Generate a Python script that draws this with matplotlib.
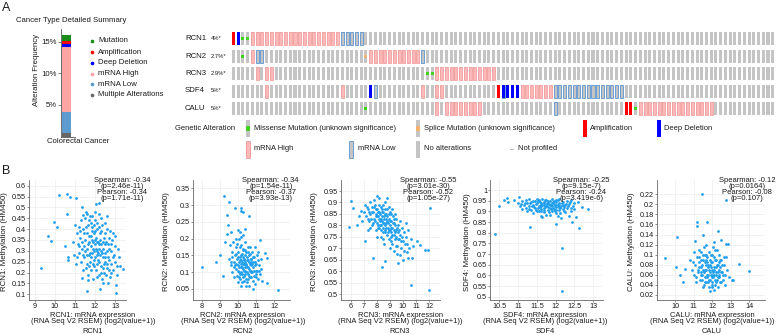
import matplotlib
matplotlib.use('Agg')
import matplotlib.pyplot as plt
from matplotlib.patches import Rectangle
import numpy as np

plt.rcParams['font.family'] = ['Liberation Sans', 'DejaVu Sans']

W, H = 777, 335

# ---------------- data: panel A summary bar ----------------
summary_types = ['Multiple Alterations', 'mRNA Low', 'mRNA High',
                 'Deep Deletion', 'Amplification', 'Mutation']
summary_freq = [0.6, 3.3, 10.3, 0.55, 0.45, 0.9]
summary_colors = ['#666666', '#5b9bd0', '#ffa3a3', '#0000ff', '#ff0000', '#1a8c1a']

# ---------------- data: oncoprint ----------------
genes = ['RCN1', 'RCN2', 'RCN3', 'SDF4', 'CALU']
gene_pct = ['4%*', '2.7%*', '2.9%*', '5%*', '5%*']
n_samples = 115
amp_cols = [[0], [], [], [56], [83, 84]]
deep_cols = [[1], [], [], [29, 57, 58, 59, 60], []]
missense_cols = [[2, 3], [2], [41, 42], [], [28, 85]]
splice_cols = [[], [28], [], [], []]
high_cols = [
    [4, 5, 6, 7, 8, 9, 10, 11, 12, 13, 14, 15, 16, 17, 18, 19, 20, 21, 22],
    [4, 29, 30, 31, 32, 33, 34, 35, 36, 37, 38, 39],
    [5, 7, 8, 43, 44, 45, 46, 47, 48, 49, 50, 51, 52, 53, 54, 55],
    [7, 23, 40, 43, 44, 61, 62, 63, 64, 65, 66, 67],
    [43, 45, 46, 47, 48, 49, 50, 51, 52, 86, 87, 88, 89, 90, 91, 92, 93,
     94, 95, 96, 97, 98, 99, 100, 101],
]
low_cols = [
    [23, 24, 25, 26, 27],
    [5, 6, 40],
    [],
    [30, 57, 68, 69, 70, 71, 72, 73, 74, 75, 76, 77, 78, 79, 80, 81, 82],
    [68],
]

# ---------------- data: panel B scatter (expression, methylation) ----------------
rcn1_xy = np.array([
    (9.32, 0.22), (9.68, 0.37), (9.8, 0.345), (9.98, 0.435), (10.1, 0.41), (10.23, 0.555),
    (10.6, 0.56), (10.78, 0.55), (11.05, 0.545), (10.6, 0.47), (10.5, 0.32), (10.67, 0.27),
    (10.64, 0.26), (11.34, 0.175), (11.6, 0.115), (12.25, 0.125), (12.66, 0.15), (13.05, 0.145),
    (13.05, 0.105), (13.4, 0.215), (13.0, 0.37), (12.75, 0.39), (11.67, 0.165), (12.05, 0.515),
    (12.18, 0.52), (11.34, 0.5), (11.42, 0.465),
    (11.0, 0.42), (11.1, 0.38), (11.15, 0.33), (11.2, 0.29), (11.25, 0.36), (11.3, 0.44),
    (11.35, 0.31), (11.4, 0.40), (11.45, 0.27), (11.5, 0.35), (11.5, 0.45), (11.55, 0.22),
    (11.6, 0.31), (11.6, 0.38), (11.65, 0.42), (11.7, 0.28), (11.7, 0.34), (11.75, 0.25),
    (11.75, 0.46), (11.8, 0.32), (11.8, 0.37), (11.85, 0.29), (11.85, 0.41), (11.9, 0.24),
    (11.9, 0.34), (11.95, 0.30), (11.95, 0.38), (12.0, 0.27), (12.0, 0.33), (12.0, 0.44),
    (12.05, 0.21), (12.05, 0.36), (12.1, 0.30), (12.1, 0.40), (12.15, 0.26), (12.15, 0.34),
    (12.2, 0.19), (12.2, 0.31), (12.2, 0.47), (12.25, 0.28), (12.25, 0.38), (12.3, 0.23),
    (12.3, 0.33), (12.35, 0.42), (12.4, 0.27), (12.4, 0.31), (12.45, 0.20), (12.45, 0.36),
    (12.5, 0.25), (12.5, 0.29), (12.55, 0.34), (12.6, 0.22), (12.6, 0.40), (12.65, 0.27),
    (12.7, 0.31), (12.75, 0.18), (12.8, 0.24), (12.85, 0.35), (12.9, 0.21), (12.95, 0.28),
    (13.0, 0.25), (13.1, 0.19), (13.15, 0.31), (13.25, 0.23), (11.3, 0.25), (11.4, 0.21),
    (11.55, 0.48), (11.65, 0.19), (11.8, 0.43), (11.9, 0.17), (12.0, 0.39), (12.1, 0.24),
    (12.3, 0.45), (12.35, 0.17), (12.55, 0.19), (12.8, 0.30), (11.2, 0.41), (11.45, 0.32),
    (11.7, 0.37), (11.95, 0.26), (12.15, 0.29), (12.25, 0.35), (12.45, 0.24), (12.65, 0.33),
    (11.85, 0.35), (12.05, 0.31), (11.6, 0.28), (12.35, 0.29), (10.9, 0.34), (10.95, 0.28),
    (11.05, 0.24), (12.9, 0.38), (13.2, 0.27), (12.5, 0.43),
    (11.52, 0.30), (11.58, 0.41), (11.62, 0.24), (11.68, 0.33), (11.72, 0.44), (11.78, 0.29),
    (11.82, 0.21), (11.88, 0.39), (11.92, 0.31), (11.98, 0.23), (12.02, 0.35), (12.08, 0.28),
    (12.12, 0.43), (12.18, 0.33), (12.22, 0.25), (12.28, 0.30), (12.32, 0.39), (12.38, 0.22),
    (12.42, 0.34), (12.48, 0.27), (12.52, 0.38), (12.58, 0.30), (12.62, 0.24), (12.68, 0.36),
    (12.72, 0.26), (12.78, 0.33), (12.82, 0.20), (12.88, 0.27), (11.48, 0.38), (11.42, 0.28),
    (11.38, 0.34), (11.28, 0.39), (11.22, 0.32), (11.12, 0.27), (12.02, 0.48), (12.12, 0.18),
    (12.42, 0.15), (12.58, 0.46), (12.98, 0.32), (13.08, 0.23), (11.62, 0.47), (11.88, 0.46),
    (12.28, 0.20), (12.68, 0.21), (11.98, 0.42), (12.22, 0.41), (11.72, 0.23), (12.48, 0.33),
    (12.08, 0.34), (11.82, 0.27),
])

rcn2_xy = np.array([
    (8.0, 0.117), (8.79, 0.13), (9.0, 0.152), (9.16, 0.09), (9.23, 0.328), (9.53, 0.31),
    (9.38, 0.27), (9.47, 0.24), (9.84, 0.29), (10.0, 0.226), (10.2, 0.292), (10.15, 0.282),
    (10.27, 0.278), (10.63, 0.268), (11.2, 0.196), (11.5, 0.156), (11.6, 0.141), (11.6, 0.067),
    (12.24, 0.047), (10.85, 0.05), (10.6, 0.06), (9.3, 0.19), (9.4, 0.215), (9.55, 0.18),
    (9.6, 0.22),
    (9.5, 0.14), (9.6, 0.12), (9.65, 0.16), (9.7, 0.10), (9.75, 0.19), (9.8, 0.13),
    (9.85, 0.15), (9.9, 0.11), (9.9, 0.175), (9.95, 0.09), (9.95, 0.14), (10.0, 0.12),
    (10.0, 0.16), (10.05, 0.20), (10.05, 0.10), (10.1, 0.135), (10.1, 0.08), (10.15, 0.15),
    (10.15, 0.115), (10.2, 0.18), (10.2, 0.10), (10.25, 0.13), (10.25, 0.07), (10.3, 0.145),
    (10.3, 0.11), (10.3, 0.165), (10.35, 0.09), (10.35, 0.125), (10.4, 0.105), (10.4, 0.15),
    (10.4, 0.19), (10.45, 0.12), (10.45, 0.08), (10.5, 0.135), (10.5, 0.10), (10.55, 0.16),
    (10.55, 0.115), (10.6, 0.09), (10.6, 0.13), (10.65, 0.105), (10.65, 0.175), (10.7, 0.12),
    (10.7, 0.085), (10.75, 0.14), (10.8, 0.10), (10.8, 0.16), (10.85, 0.115), (10.9, 0.09),
    (10.95, 0.13), (11.0, 0.105), (11.05, 0.15), (11.1, 0.08), (11.15, 0.12), (11.2, 0.095),
    (11.3, 0.11), (11.35, 0.075), (9.7, 0.145), (9.8, 0.085), (10.0, 0.07), (10.1, 0.175),
    (10.2, 0.135), (10.3, 0.125), (10.35, 0.14), (10.45, 0.16), (10.5, 0.07), (10.55, 0.135),
    (10.6, 0.15), (10.7, 0.14), (10.75, 0.105), (10.85, 0.13), (10.9, 0.145), (11.0, 0.085),
    (10.25, 0.095), (10.15, 0.06), (10.4, 0.13), (9.85, 0.12), (10.05, 0.13), (10.65, 0.125),
    (10.95, 0.175), (11.1, 0.135), (11.25, 0.14), (9.9, 0.2), (10.1, 0.22), (10.4, 0.23),
    (10.3, 0.21),
    (9.88, 0.155), (9.92, 0.125), (9.98, 0.105), (10.02, 0.145), (10.08, 0.115), (10.12, 0.095),
    (10.18, 0.125), (10.22, 0.155), (10.28, 0.085), (10.32, 0.135), (10.38, 0.115), (10.42, 0.095),
    (10.48, 0.145), (10.52, 0.115), (10.58, 0.08), (10.62, 0.11), (10.68, 0.155), (10.72, 0.1),
    (10.78, 0.125), (10.82, 0.075), (10.88, 0.105), (10.92, 0.12), (10.98, 0.095), (11.02, 0.125),
    (11.08, 0.105), (11.12, 0.16), (10.22, 0.115), (10.34, 0.105), (10.46, 0.125), (10.56, 0.095),
    (10.66, 0.085), (10.74, 0.13), (10.26, 0.17), (10.12, 0.145), (10.38, 0.165), (10.58, 0.175),
    (10.04, 0.085), (9.76, 0.115), (9.64, 0.13), (10.84, 0.145), (10.94, 0.065), (11.18, 0.105),
    (10.46, 0.06), (10.36, 0.075), (10.18, 0.205), (9.96, 0.185),
])

rcn3_xy = np.array([
    (5.9, 0.795), (6.0, 0.907), (6.46, 0.80), (6.2, 0.877), (7.1, 0.733), (7.69, 0.66),
    (8.38, 0.621), (8.63, 0.643), (8.0, 0.93), (8.76, 0.918), (9.58, 0.675), (10.6, 0.541),
    (12.03, 0.519), (12.08, 0.875), (11.95, 0.693), (11.7, 0.693), (11.31, 0.715), (11.1, 0.733),
    (10.42, 0.657), (10.29, 0.686), (9.0, 0.70), (9.65, 0.636), (6.6, 0.84), (6.8, 0.865),
    (6.9, 0.82),
    (7.0, 0.86), (7.1, 0.89), (7.2, 0.84), (7.3, 0.87), (7.4, 0.82), (7.45, 0.90), (7.5, 0.85),
    (7.6, 0.88), (7.65, 0.80), (7.7, 0.86), (7.8, 0.83), (7.85, 0.89), (7.9, 0.78), (7.95, 0.85),
    (8.0, 0.81), (8.05, 0.87), (8.1, 0.84), (8.15, 0.79), (8.2, 0.86), (8.25, 0.82), (8.3, 0.75),
    (8.3, 0.88), (8.35, 0.80), (8.4, 0.84), (8.45, 0.77), (8.5, 0.86), (8.5, 0.81), (8.55, 0.83),
    (8.6, 0.78), (8.6, 0.90), (8.65, 0.80), (8.7, 0.85), (8.75, 0.76), (8.8, 0.82), (8.8, 0.87),
    (8.85, 0.79), (8.9, 0.74), (8.95, 0.83), (9.0, 0.80), (9.0, 0.86), (9.05, 0.77), (9.1, 0.82),
    (9.15, 0.72), (9.2, 0.79), (9.25, 0.84), (9.3, 0.76), (9.35, 0.81), (9.4, 0.74), (9.45, 0.78),
    (9.5, 0.83), (9.55, 0.71), (9.6, 0.77), (9.65, 0.80), (9.7, 0.74), (9.8, 0.76), (9.85, 0.70),
    (9.9, 0.79), (10.0, 0.73), (10.05, 0.77), (10.1, 0.69), (10.2, 0.75), (10.3, 0.72),
    (10.4, 0.78), (10.5, 0.70), (10.6, 0.74), (10.7, 0.66), (10.8, 0.71), (7.5, 0.79),
    (7.75, 0.91), (8.2, 0.92), (8.45, 0.89), (8.9, 0.88), (9.2, 0.87), (9.4, 0.85), (9.75, 0.82),
    (10.2, 0.81), (7.3, 0.78), (8.0, 0.75), (8.55, 0.72), (9.3, 0.69), (9.8, 0.67), (10.0, 0.65),
    (8.3, 0.83), (8.7, 0.81), (8.1, 0.80), (8.9, 0.78), (9.1, 0.75), (8.6, 0.85), (7.9, 0.84),
    (8.4, 0.87),
    (7.55, 0.83), (7.62, 0.86), (7.72, 0.81), (7.78, 0.88), (7.88, 0.82), (7.92, 0.87),
    (8.02, 0.84), (8.08, 0.79), (8.12, 0.86), (8.18, 0.83), (8.22, 0.80), (8.28, 0.85),
    (8.32, 0.78), (8.38, 0.82), (8.42, 0.86), (8.48, 0.79), (8.52, 0.84), (8.58, 0.81),
    (8.62, 0.77), (8.68, 0.83), (8.72, 0.79), (8.78, 0.84), (8.82, 0.77), (8.88, 0.81),
    (8.92, 0.85), (8.98, 0.78), (9.02, 0.82), (9.08, 0.79), (9.12, 0.85), (9.18, 0.76),
    (9.22, 0.81), (9.28, 0.78), (9.32, 0.83), (9.38, 0.77), (9.42, 0.80), (9.48, 0.75),
    (9.52, 0.79), (9.62, 0.74), (9.72, 0.78), (9.82, 0.73), (7.42, 0.86), (7.32, 0.83),
    (7.22, 0.88), (8.15, 0.89), (8.65, 0.87), (9.05, 0.73), (9.45, 0.71), (9.95, 0.75),
    (10.15, 0.72), (8.45, 0.74),
])

sdf4_xy = np.array([
    (10.38, 0.793), (10.5, 0.927), (10.63, 0.953), (10.7, 0.961), (10.73, 0.945), (11.31, 0.829),
    (12.16, 0.727), (12.18, 0.528), (12.63, 0.82), (12.86, 0.91), (12.53, 0.875), (12.44, 0.852),
    (12.02, 0.84), (10.89, 0.953), (11.03, 0.969), (12.7, 0.92), (12.6, 0.945), (12.4, 0.955),
    (11.0, 0.94), (11.05, 0.925), (11.1, 0.95), (11.15, 0.93), (11.2, 0.915), (11.2, 0.955),
    (11.25, 0.94), (11.3, 0.925), (11.3, 0.96), (11.35, 0.905), (11.35, 0.945), (11.4, 0.93),
    (11.4, 0.89), (11.45, 0.95), (11.45, 0.915), (11.5, 0.94), (11.5, 0.9), (11.55, 0.925),
    (11.55, 0.955), (11.6, 0.91), (11.6, 0.94), (11.6, 0.88), (11.65, 0.93), (11.65, 0.96),
    (11.7, 0.915), (11.7, 0.945), (11.7, 0.895), (11.75, 0.93), (11.75, 0.955), (11.8, 0.905),
    (11.8, 0.94), (11.8, 0.92), (11.85, 0.885), (11.85, 0.95), (11.9, 0.925), (11.9, 0.9),
    (11.9, 0.96), (11.95, 0.935), (11.95, 0.91), (12.0, 0.945), (12.0, 0.92), (12.0, 0.89),
    (12.05, 0.93), (12.05, 0.955), (12.1, 0.905), (12.1, 0.94), (12.15, 0.925), (12.15, 0.87),
    (12.2, 0.945), (12.2, 0.91), (12.25, 0.93), (12.25, 0.895), (12.3, 0.95), (12.3, 0.915),
    (12.35, 0.935), (12.4, 0.9), (12.45, 0.925), (12.5, 0.94), (11.1, 0.91), (11.25, 0.9),
    (11.5, 0.96), (11.65, 0.875), (11.75, 0.885), (11.85, 0.915), (11.95, 0.95), (12.05, 0.88),
    (12.1, 0.96), (12.35, 0.88), (11.4, 0.95), (11.55, 0.9), (11.7, 0.93), (11.8, 0.95),
    (11.9, 0.94), (12.0, 0.93), (12.1, 0.92), (12.2, 0.93), (11.6, 0.925), (11.85, 0.93),
    (11.42, 0.92), (11.48, 0.935), (11.52, 0.915), (11.58, 0.945), (11.62, 0.93), (11.68, 0.905),
    (11.72, 0.955), (11.78, 0.925), (11.82, 0.935), (11.88, 0.91), (11.92, 0.945), (11.98, 0.925),
    (12.02, 0.905), (12.08, 0.935), (12.12, 0.915), (12.18, 0.94), (12.22, 0.92), (12.28, 0.935),
    (11.52, 0.95), (11.62, 0.9), (11.72, 0.92), (11.82, 0.895), (11.92, 0.915), (12.02, 0.955),
    (12.12, 0.89), (12.22, 0.9), (11.32, 0.94), (11.28, 0.91), (11.38, 0.925), (12.32, 0.925),
    (12.42, 0.915), (11.78, 0.94), (11.88, 0.93), (11.98, 0.9), (12.08, 0.92), (11.68, 0.94),
    (11.58, 0.92), (11.48, 0.905), (12.38, 0.945), (11.18, 0.94), (11.08, 0.935), (12.48, 0.91),
])

calu_xy = np.array([
    (9.48, 0.093), (10.13, 0.136), (10.05, 0.076), (10.27, 0.06), (11.44, 0.22), (11.17, 0.164),
    (11.2, 0.158), (11.75, 0.164), (12.76, 0.209), (12.88, 0.121), (12.76, 0.121), (13.48, 0.081),
    (14.02, 0.068), (13.15, 0.05), (13.06, 0.05), (11.9, 0.028), (10.45, 0.046), (10.54, 0.072),
    (11.1, 0.128), (11.5, 0.14), (12.3, 0.148), (12.5, 0.13),
    (10.8, 0.09), (10.9, 0.07), (11.0, 0.105), (11.0, 0.06), (11.1, 0.08), (11.15, 0.045),
    (11.2, 0.095), (11.25, 0.065), (11.3, 0.11), (11.3, 0.075), (11.35, 0.05), (11.4, 0.09),
    (11.45, 0.06), (11.5, 0.1), (11.5, 0.07), (11.55, 0.04), (11.6, 0.085), (11.6, 0.055),
    (11.65, 0.12), (11.7, 0.07), (11.7, 0.045), (11.75, 0.095), (11.8, 0.06), (11.8, 0.08),
    (11.85, 0.035), (11.85, 0.105), (11.9, 0.065), (11.9, 0.05), (11.95, 0.085), (12.0, 0.07),
    (12.0, 0.04), (12.0, 0.1), (12.05, 0.055), (12.1, 0.075), (12.1, 0.03), (12.15, 0.09),
    (12.2, 0.06), (12.2, 0.045), (12.25, 0.08), (12.3, 0.065), (12.3, 0.035), (12.35, 0.1),
    (12.4, 0.055), (12.45, 0.075), (12.5, 0.045), (12.5, 0.09), (12.6, 0.06), (12.65, 0.08),
    (12.7, 0.04), (12.8, 0.07), (12.9, 0.055), (11.3, 0.095), (11.45, 0.08), (11.6, 0.07),
    (11.75, 0.055), (11.9, 0.09), (12.05, 0.065), (12.15, 0.05), (12.25, 0.11), (12.4, 0.07),
    (11.55, 0.115), (11.7, 0.1), (12.1, 0.125), (11.95, 0.075), (12.35, 0.085), (11.8, 0.045),
    (12.55, 0.065), (11.4, 0.065), (12.0, 0.06), (11.65, 0.09), (12.2, 0.075), (10.95, 0.085),
    (12.75, 0.095),
    (11.32, 0.085), (11.38, 0.06), (11.42, 0.075), (11.48, 0.05), (11.52, 0.09), (11.58, 0.065),
    (11.62, 0.045), (11.68, 0.08), (11.72, 0.06), (11.78, 0.075), (11.82, 0.05), (11.88, 0.08),
    (11.92, 0.06), (11.98, 0.045), (12.02, 0.085), (12.08, 0.06), (12.12, 0.07), (12.18, 0.04),
    (12.22, 0.065), (12.28, 0.05), (12.32, 0.08), (12.38, 0.06), (12.42, 0.045), (12.48, 0.065),
    (12.52, 0.08), (12.58, 0.05), (11.72, 0.085), (11.82, 0.07), (11.92, 0.1), (12.02, 0.055),
    (12.12, 0.095), (12.22, 0.09), (12.32, 0.055), (11.62, 0.1), (11.42, 0.105), (12.42, 0.09),
    (11.98, 0.035), (12.18, 0.11), (11.52, 0.035), (12.62, 0.095), (11.22, 0.07), (11.12, 0.055),
    (12.72, 0.06), (12.05, 0.115),
])

scatter_data = [rcn1_xy, rcn2_xy, rcn3_xy, sdf4_xy, calu_xy]
spearman = ['-0.34', '-0.34', '-0.55', '-0.25', '-0.12']
spearman_p = ['2.46e-11', '1.54e-11', '3.01e-30', '9.15e-7', '0.0164']
pearson = ['-0.34', '-0.37', '-0.52', '-0.24', '-0.08']
pearson_p = ['1.71e-11', '3.93e-13', '1.05e-27', '3.419e-6', '0.107']
x_ticks = [[9, 10, 11, 12, 13], [8, 9, 10, 11, 12], [6, 7, 8, 9, 10, 11, 12],
           [10.5, 11, 11.5, 12, 12.5, 13], [10, 11, 12, 13, 14]]
y_ticks = [[0.1, 0.15, 0.2, 0.25, 0.3, 0.35, 0.4, 0.45, 0.5, 0.55, 0.6],
           [0.05, 0.1, 0.15, 0.2, 0.25, 0.3, 0.35],
           [0.5, 0.55, 0.6, 0.65, 0.7, 0.75, 0.8, 0.85, 0.9, 0.95],
           [0.5, 0.55, 0.6, 0.65, 0.7, 0.75, 0.8, 0.85, 0.9, 0.95, 1.0],
           [0.02, 0.04, 0.06, 0.08, 0.1, 0.12, 0.14, 0.16, 0.18, 0.2, 0.22]]

# ---------------- layout (pixels) ----------------
fig = plt.figure(figsize=(W / 100, H / 100), dpi=100)


def px_rect(x0, y0, x1, y1):
    return [x0 / W, 1 - y1 / H, (x1 - x0) / W, (y1 - y0) / H]


# overlay axes in pixel coordinates for labels / legends (drawn on top)
ov = fig.add_axes([0, 0, 1, 1])
ov.set_xlim(0, W)
ov.set_ylim(H, 0)
ov.axis('off')
ov.set_zorder(10)

TXT = '#1a1a1a'

# panel letters
ov.text(2, 8, 'A', fontsize=9, va='center', ha='left', color=TXT)
ov.text(2, 171, 'B', fontsize=9, va='center', ha='left', color=TXT)

# ---- A: summary bar ----
ov.text(16, 20, 'Cancer Type Detailed Summary', fontsize=5.6, va='center', color=TXT)
axb = fig.add_axes(px_rect(60.7, 29, 75, 136.5))
bottom = 0
for f, c in zip(summary_freq, summary_colors):
    axb.bar(0, f, width=1, bottom=bottom, align='edge', color=c, linewidth=0)
    bottom += f
axb.set_xlim(-0.184, 1.46)
axb.set_ylim(0, 17.06)
axb.set_yticks([5, 10, 15])
axb.set_yticklabels(['5%', '10%', '15%'])
axb.set_xticks([])
for s in ['top', 'right']:
    axb.spines[s].set_visible(False)
for s in ['left', 'bottom']:
    axb.spines[s].set_color('#555555')
    axb.spines[s].set_linewidth(0.6)
axb.tick_params(axis='y', length=2, width=0.5, pad=1, labelsize=5.6, colors='#555555',
                labelcolor=TXT)
ov.text(37, 70, 'Alteration Frequency', fontsize=5.6, rotation=90, ha='center',
        va='center', color=TXT)
ov.text(78.5, 141.7, 'Colorectal Cancer', fontsize=5.6, ha='center', va='center', color=TXT)

leg_y = [41, 52, 63, 73.7, 84.3, 95]
for lab, c, yy in zip(summary_types[::-1], summary_colors[::-1], leg_y):
    ov.scatter([92.3], [yy], s=7, color=c, linewidths=0)
    ov.text(98, yy, lab, fontsize=5.6, va='center', color=TXT)

# ---- A: oncoprint ----
col_px = 4.73
row_px = 17.4
axo = fig.add_axes(px_rect(232, 32.3, 232 + n_samples * col_px, 32.3 + len(genes) * row_px))
axo.set_xlim(0, n_samples)
axo.set_ylim(len(genes), 0)
axo.axis('off')
bw = 0.64
bh = 13 / row_px
GRAY = '#c4c4c4'
for gi in range(len(genes)):
    cols = np.arange(n_samples)
    axo.bar(cols, bh, bottom=gi, width=bw, align='edge', color=GRAY, linewidth=0)
    if high_cols[gi]:
        axo.bar(high_cols[gi], bh, bottom=gi, width=bw, align='edge', color='#fbb9b9',
                edgecolor='#f4a0a0', linewidth=0.6)
    if low_cols[gi]:
        axo.bar(low_cols[gi], bh, bottom=gi, width=bw, align='edge', color=GRAY,
                edgecolor='#6e9fd4', linewidth=0.7)
    if amp_cols[gi]:
        axo.bar(amp_cols[gi], bh, bottom=gi, width=bw, align='edge', color='#ff0000',
                linewidth=0)
    if deep_cols[gi]:
        axo.bar(deep_cols[gi], bh, bottom=gi, width=bw, align='edge', color='#0000ff',
                linewidth=0)
    if missense_cols[gi]:
        axo.bar(missense_cols[gi], bh * 0.26, bottom=gi + bh * 0.37, width=bw, align='edge',
                color='#3fd21e', linewidth=0)
    if splice_cols[gi]:
        axo.bar(splice_cols[gi], bh * 0.26, bottom=gi + bh * 0.37, width=bw, align='edge',
                color='#f5b26e', linewidth=0)
    yc = 32.3 + gi * row_px + 6.5
    ov.text(185, yc, genes[gi], fontsize=5.6, va='center', color=TXT)
    ov.text(211, yc, gene_pct[gi], fontsize=4.2, va='center', color=TXT)

# oncoprint legend
ov.text(175, 128.3, 'Genetic Alteration', fontsize=5.4, va='center', color=TXT)


def leg_bar(x, yc, face, edge=None, dot=None):
    ov.add_patch(Rectangle((x - 2, yc - 8.5), 4, 17, facecolor=face,
                           edgecolor=edge if edge else 'none', linewidth=0.7))
    if dot:
        ov.add_patch(Rectangle((x - 2, yc - 2.5), 4, 5, facecolor=dot, edgecolor='none'))


r1, r2 = 128.3, 149
leg_bar(247.5, r1, GRAY, dot='#3fd21e')
ov.text(254, r1, 'Missense Mutation (unknown significance)', fontsize=5.4, va='center', color=TXT)
leg_bar(418, r1, GRAY, dot='#f5b26e')
ov.text(424.5, r1, 'Splice Mutation (unknown significance)', fontsize=5.4, va='center', color=TXT)
leg_bar(585, r1, '#ff0000')
ov.text(590, r1, 'Amplification', fontsize=5.4, va='center', color=TXT)
leg_bar(659, r1, '#0000ff')
ov.text(664.5, r1, 'Deep Deletion', fontsize=5.4, va='center', color=TXT)
leg_bar(247.5, r2, '#fbb9b9', edge='#f4a0a0')
ov.text(254, r2, 'mRNA High', fontsize=5.4, va='center', color=TXT)
leg_bar(351, r2, GRAY, edge='#6e9fd4')
ov.text(357.5, r2, 'mRNA Low', fontsize=5.4, va='center', color=TXT)
leg_bar(418, r2, GRAY)
ov.text(424.5, r2, 'No alterations', fontsize=5.4, va='center', color=TXT)
ov.plot([509.5, 512.5], [r2, r2], color='#aaaaaa', lw=0.6)
ov.text(518.5, r2, 'Not profiled', fontsize=5.4, va='center', color=TXT)

# ---- B: scatter panels ----
ax_px = [(29, 126), (193, 290), (340.7, 440), (490, 603), (656.7, 765)]
xlims = [(8.716, 13.55), (7.52, 12.88), (5.234, 12.84), (10.253, 13.26), (9.011, 14.86)]
ylims = [(0.0738, 0.626), (0.0172, 0.3747), (0.475, 0.998), (0.4845, 1.047), (0.010, 0.2484)]
ylab_x = [5, 166.7, 315, 467.3, 631.7]
xlab_cx = [93, 243, 400, 545, 712]
ann_right = [150, 299, 456.7, 609.3, 775.5]
SC = '#1f9fee'

for i, g in enumerate(genes):
    x0, x1 = ax_px[i]
    ax = fig.add_axes(px_rect(x0, 180, x1, 300))
    ax.patch.set_alpha(0)
    d = scatter_data[i]
    ax.scatter(d[:, 0], d[:, 1], s=4, color=SC, linewidths=0, zorder=3)
    ax.set_xlim(*xlims[i])
    ax.set_ylim(*ylims[i])
    ax.set_xticks(x_ticks[i])
    ax.set_xticklabels(['{:g}'.format(v) for v in x_ticks[i]])
    ax.set_yticks(y_ticks[i])
    ax.set_yticklabels(['{:g}'.format(v) for v in y_ticks[i]])
    ax.grid(color='#ededed', linewidth=0.5)
    ax.set_axisbelow(True)
    for s in ['top', 'right']:
        ax.spines[s].set_visible(False)
    for s in ['left', 'bottom']:
        ax.spines[s].set_color('#666666')
        ax.spines[s].set_linewidth(0.6)
    ax.tick_params(length=1.5, width=0.5, pad=0.6, labelsize=5.2, colors='#666666',
                   labelcolor=TXT)

    ov.text(ylab_x[i], 242, g + ': Methylation (HM450)', fontsize=5.7, rotation=90,
            ha='center', va='center', color=TXT)
    ov.text(xlab_cx[i], 318.5, g + ': mRNA expression\n(RNA Seq V2 RSEM) (log2(value+1))',
            fontsize=5.4, ha='center', va='center', multialignment='center',
            linespacing=0.95, color=TXT)
    ov.text(xlab_cx[i], 331.5, g, fontsize=5.4, ha='center', va='center', color=TXT)

    ann = ('Spearman: ' + spearman[i] + '\n(p=' + spearman_p[i] + ')\n'
           'Pearson: ' + pearson[i] + '\n(p=' + pearson_p[i] + ')')
    ov.text(ann_right[i], 189.5, ann, fontsize=5.5, ha='right', va='center',
            multialignment='center', linespacing=0.83, color=TXT)

fig.savefig('out.png', dpi=100, facecolor='white')
